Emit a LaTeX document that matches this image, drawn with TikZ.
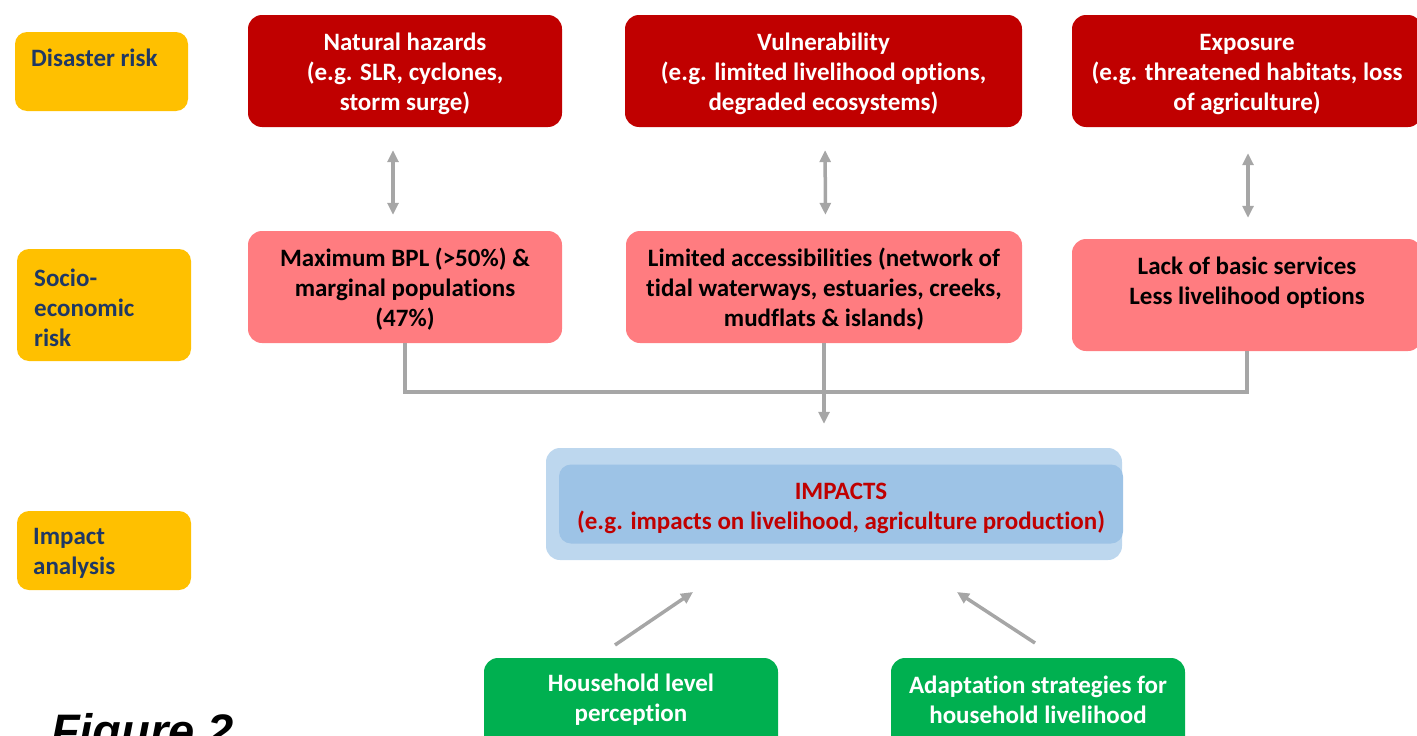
\documentclass[tikz,border=0pt]{standalone}
\usepackage{fontspec}
\setmainfont{Carlito}[Ligatures={NoCommon,NoRequired,NoContextual}]
\newfontfamily\figfont{Liberation Sans}
\usetikzlibrary{arrows.meta}
\definecolor{dred}{HTML}{C00000}
\definecolor{pinkc}{HTML}{FF7C80}
\definecolor{goldc}{HTML}{FFC000}
\definecolor{navyc}{HTML}{1F3864}
\definecolor{greenc}{HTML}{00B050}
\definecolor{lbone}{HTML}{BDD7EE}
\definecolor{lbtwo}{HTML}{9DC3E6}
\definecolor{arrc}{HTML}{A6A6A6}
\tikzset{
  box/.style={rounded corners=14pt, inner sep=0pt, draw=none},
  txt/.style={inner sep=0pt, align=center, yshift=-2.5pt,
    font=\bfseries\fontsize{25}{30}\selectfont},
  lab/.style={rounded corners=12pt, inner sep=0pt, draw=none, fill=goldc},
  labtxt/.style={anchor=west, align=left, inner sep=0pt, text=navyc,
    font=\bfseries\fontsize{25}{30}\selectfont},
  conn/.style={draw=arrc, line width=3.5pt},
  tipd/.style={-{Triangle[length=12pt,width=11pt]}},
  dbl/.style={{Triangle[length=12pt,width=11pt]}-{Triangle[length=12pt,width=11pt]}},
}
\begin{document}
\begin{tikzpicture}[x=1pt,y=-1pt]
\useasboundingbox (0,0) rectangle (1417,736);
\clip (0,0) rectangle (1417,736);
% left labels
\node[lab, minimum width=173pt, minimum height=79pt] (l1) at (101.5,71.5) {};
\node[labtxt] (l1t) at (31,58) {Disaster risk};
\node[lab, minimum width=174pt, minimum height=112pt] (l2) at (104,305) {};
\node[labtxt] (l2t) at (34,308) {Socio-\\economic\\risk};
\node[lab, minimum width=174pt, minimum height=79pt] (l3) at (104,550.5) {};
\node[labtxt] (l3t) at (33,553) {Impact\\analysis};
% disaster risk row
\node[box, fill=dred, minimum width=314pt, minimum height=112pt,
  label={[txt, text=white]center:{Natural hazards\\(e.g. SLR, cyclones,\\storm surge)}}] (nh) at (405,71) {};
\node[box, fill=dred, minimum width=397pt, minimum height=112pt,
  label={[txt, text=white]center:{Vulnerability\\(e.g. limited livelihood options,\\degraded ecosystems)}}] (vu) at (823.5,71) {};
\node[box, fill=dred, minimum width=350pt, minimum height=112pt,
  label={[txt, text=white, yshift=-1pt]center:{Exposure\\(e.g. threatened habitats, loss\\of agriculture)}}] (ex) at (1247,71) {};
% socio-economic row
\node[box, fill=pinkc, minimum width=314pt, minimum height=112pt,
  label={[txt, text=black]center:{Maximum BPL (>50\%) \&\\marginal populations\\(47\%)}}] (bpl) at (405,287) {};
\node[box, fill=pinkc, minimum width=396pt, minimum height=112pt,
  label={[txt, text=black]center:{Limited accessibilities (network of\\tidal waterways, estuaries, creeks,\\mudflats \& islands)}}] (lim) at (824,287) {};
\node[box, fill=pinkc, minimum width=350pt, minimum height=112pt,
  label={[txt, text=black, yshift=15pt]center:{Lack of basic services\\Less livelihood options}}] (lack) at (1247,295) {};
% impacts
\node[box, fill=lbone, minimum width=576pt, minimum height=112pt] (impo) at (834,504) {};
\node[box, fill=lbtwo, rounded corners=12pt, minimum width=564pt, minimum height=79pt,
  label={[txt, text=dred, yshift=-1.5pt]center:{IMPACTS\\(e.g. impacts on livelihood, agriculture production)}}] (imp) at (841,504) {};
% household row
\node[box, fill=greenc, minimum width=294pt, minimum height=110pt] (hh) at (631,713) {};
\node[txt, text=white] (hht) at (631,697.5) {Household level\\perception};
\node[box, fill=greenc, minimum width=294pt, minimum height=110pt] (ad) at (1038,713) {};
\node[txt, text=white] (adt) at (1038,697.5) {Adaptation strategies for\\household livelihood};
% connectors
\draw[conn, dbl, shorten <=23pt, shorten >=16pt] ([xshift=-12pt]nh.south) -- ([xshift=-12pt]bpl.north);
\draw[conn, dbl, shorten <=23pt, shorten >=16pt] ([xshift=1.5pt]vu.south) -- ([xshift=1.5pt]lim.north);
\draw[conn, dbl, shorten <=26pt, shorten >=21pt] ([xshift=1pt]ex.south) -- ([xshift=1pt]lack.north);
\draw[conn, line join=miter] (bpl.south) -- ++(0,49) -| (lack.south);
\draw[conn, tipd, shorten >=24pt] (lim.south) -- (lim.south |- impo.north);
\coordinate (a1s) at (615,645);
\coordinate (a1e) at (693,592);
\coordinate (a2s) at (1035,643);
\coordinate (a2e) at (957,592);
\draw[conn, tipd] (a1s) -- (a1e);
\draw[conn, tipd] (a2s) -- (a2e);
% figure caption
\node[anchor=base west, inner sep=0pt, text=black, font=\figfont\bfseries\itshape\fontsize{47}{47}\selectfont] (fig) at (51,747) {Figure 2};
\end{tikzpicture}
\end{document}
